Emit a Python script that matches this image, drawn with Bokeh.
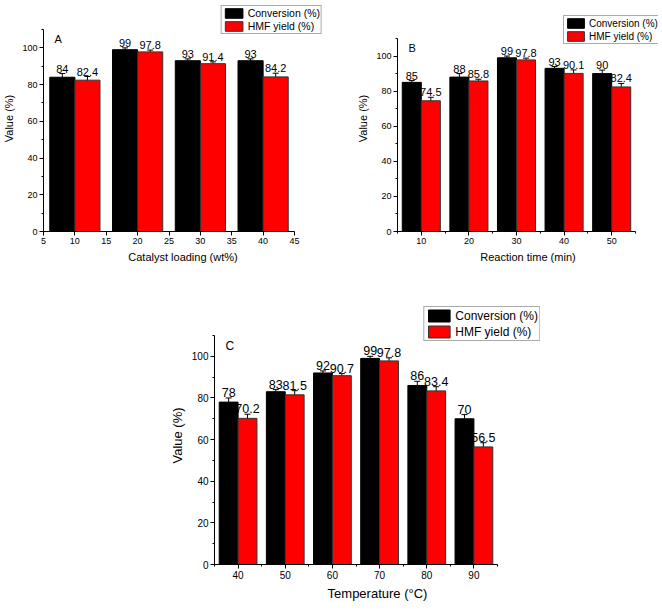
from bokeh.embed import file_html
from bokeh.layouts import column, row
from bokeh.models import (ColumnDataSource, Label, Legend, LegendItem, Range1d,
                          SingleIntervalTicker, Spacer, TeeHead, Whisker)
from bokeh.plotting import figure
from bokeh.resources import INLINE

FONT = "Liberation Sans"

# A - catalyst loading
loading = [10, 20, 30, 40]
conv_a = [84, 99, 93, 93]
conv_a_err = [2, 1, 1, 1]
hmf_a = [82.4, 97.8, 91.4, 84.2]
hmf_a_err = [2, 1, 1, 2]

# B - reaction time
time_min = [10, 20, 30, 40, 50]
conv_b = [85, 88, 99, 93, 90]
conv_b_err = [1, 2, 1, 1, 2]
hmf_b = [74.5, 85.8, 97.8, 90.1, 82.4]
hmf_b_err = [2, 1, 1, 2, 2]

# C - temperature
temp = [40, 50, 60, 70, 80, 90]
conv_c = [78, 83, 92, 99, 86, 70]
conv_c_err = [2, 1, 1, 1, 2, 2]
hmf_c = [70.2, 81.5, 90.7, 97.8, 83.4, 56.5]
hmf_c_err = [2, 2, 1, 1.5, 2, 2]

series_names = ["Conversion (%)", "HMF yield (%)"]
Y_MAX = 110


def panel(xs, conv, conv_err, hmf, hmf_err, xlabel, letter, xr, minor,
          axis_px, extra, borders, fs, leg):
    # axis_px: size of the drawn axes box, extra: room right/top for the legend
    aw, ah = axis_px
    ex_r, ex_t = extra
    bl, br, bt, bb = borders
    fw, fh = aw + ex_r, ah + ex_t
    x_end = xr[0] + (xr[1] - xr[0]) * fw / aw
    y_end = Y_MAX * fh / ah
    p = figure(frame_width=fw, frame_height=fh,
               x_range=Range1d(xr[0], x_end), y_range=Range1d(0, y_end),
               output_backend="svg", toolbar_location=None,
               min_border_left=bl, min_border_right=br,
               min_border_top=bt, min_border_bottom=bb)
    p.outline_line_color = None
    p.grid.visible = False

    p.xaxis.ticker = SingleIntervalTicker(interval=10 if minor else 5,
                                          num_minor_ticks=2 if minor else 0)
    p.yaxis.ticker = SingleIntervalTicker(interval=20, num_minor_ticks=2)
    p.xaxis.bounds = xr
    p.yaxis.bounds = (0, Y_MAX)
    for ax in (p.xaxis, p.yaxis):
        ax.axis_line_color = "black"
        ax.major_tick_line_color = "black"
        ax.minor_tick_line_color = "black"
        ax.major_tick_out = 4
        ax.major_tick_in = 0
        ax.minor_tick_out = 2
        ax.minor_tick_in = 0
        ax.major_label_text_font = FONT
        ax.major_label_text_font_size = fs["tick"]
        ax.major_label_text_color = "black"
        ax.major_label_standoff = 2
        ax.axis_label_text_font = FONT
        ax.axis_label_text_font_size = fs["title"]
        ax.axis_label_text_font_style = "normal"
        ax.axis_label_text_color = "black"
        ax.axis_label_standoff = 4
    p.xaxis.axis_label = xlabel
    p.yaxis.axis_label = "Value (%)"

    renderers = []
    for vals, errs, shift, color, edge in ((conv, conv_err, -2, "black", "black"),
                                           (hmf, hmf_err, 2, "#ff0000", "#333333")):
        src = ColumnDataSource(dict(
            x=[v + shift for v in xs],
            top=vals,
            upper=[v + e for v, e in zip(vals, errs)],
            lower=[v - e for v, e in zip(vals, errs)],
            lbl=[f"{v:g}" for v in vals],
        ))
        r = p.vbar(x="x", top="top", width=4, bottom=0, source=src,
                   fill_color=color, line_color=edge, line_width=1)
        renderers.append(r)
        p.add_layout(Whisker(source=src, base="x", upper="upper", lower="lower",
                             line_color="black", line_width=1,
                             upper_head=TeeHead(size=6, line_color="black"),
                             lower_head=TeeHead(size=6, line_color="black")))
        p.text(x="x", y="upper", text="lbl", source=src, y_offset=-1,
               text_align="center", text_baseline="bottom",
               text_font_size=fs["value"], text_color="black",
               text_font={"value": FONT})

    p.add_layout(Label(x=11, y=fh - ex_t - 3, x_units="screen", y_units="screen",
                       text=letter, text_font=FONT, text_font_size=fs["letter"],
                       text_baseline="top", text_color="black"))

    gw, gh, drop, lw = leg
    if drop:
        loc = (aw - lw, fh - drop - (2 * gh + 3))
    else:
        loc = "top_right"
    legend = Legend(items=[LegendItem(label=n, renderers=[r])
                           for n, r in zip(series_names, renderers)],
                    location=loc, orientation="vertical",
                    glyph_width=gw, glyph_height=gh, label_height=gh,
                    label_standoff=3, spacing=1, padding=1, margin=0,
                    label_text_font=FONT, label_text_font_size=fs["legend"],
                    label_text_color="black", label_text_line_height=1.0,
                    border_line_color="#555555", border_line_width=1,
                    background_fill_color="white", background_fill_alpha=1)
    p.add_layout(legend, "center")
    return p


pa = panel(loading, conv_a, conv_a_err, hmf_a, hmf_a_err,
           "Catalyst loading (wt%)", "A", (5, 45), False,
           (251, 202), (28, 24), (36, 32, 5, 40),
           dict(tick="9px", title="11px", value="11px", letter="11px", legend="10.5px"),
           (22, 12, 0, 0))

pb = panel(time_min, conv_b, conv_b_err, hmf_b, hmf_b_err,
           "Reaction time (min)", "B", (5, 55), True,
           (238, 193), (23, 33), (36, 2, 5, 40),
           dict(tick="9px", title="11px", value="11px", letter="11px", legend="10px"),
           (21, 12, 12, 72))

pc = panel(temp, conv_c, conv_c_err, hmf_c, hmf_c_err,
           "Temperature (°C)", "C", (35, 95), True,
           (283, 229), (43, 29), (38, 6, 35, 36),
           dict(tick="10px", title="13px", value="12.5px", letter="12px", legend="12px"),
           (27, 15, 0, 0))

layout = column(row(pa, pb), row(Spacer(width=166, height=329), pc))

open("out.html", "w").write(file_html(layout, INLINE))
